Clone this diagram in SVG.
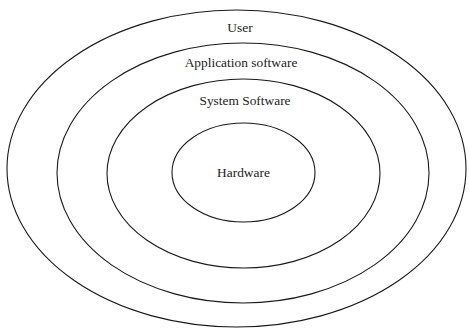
<svg xmlns="http://www.w3.org/2000/svg" width="469" height="332" viewBox="0 0 469 332">
<style>
.ring{fill:none;stroke:#1a1a1a;stroke-width:1.1}
.lbl{font-family:"Liberation Serif",serif;font-size:13.4px;fill:#222;text-anchor:middle}
</style>
<rect width="469" height="332" fill="#fff"/>
<g id="user">
<ellipse class="ring" cx="236.5" cy="168.5" rx="229.5" ry="158.5"/>
<text class="lbl" x="240" y="32">User</text>
</g>
<g id="application">
<ellipse class="ring" cx="243" cy="173" rx="186" ry="130"/>
<text class="lbl" x="241" y="67">Application software</text>
</g>
<g id="system">
<ellipse class="ring" cx="243.5" cy="173.5" rx="136.5" ry="94.5"/>
<text class="lbl" x="245" y="105">System Software</text>
</g>
<g id="hardware">
<ellipse class="ring" cx="243.5" cy="172.5" rx="71.5" ry="49.5"/>
<text class="lbl" x="243.5" y="177">Hardware</text>
</g>
<g id="connectors"/>
</svg>
